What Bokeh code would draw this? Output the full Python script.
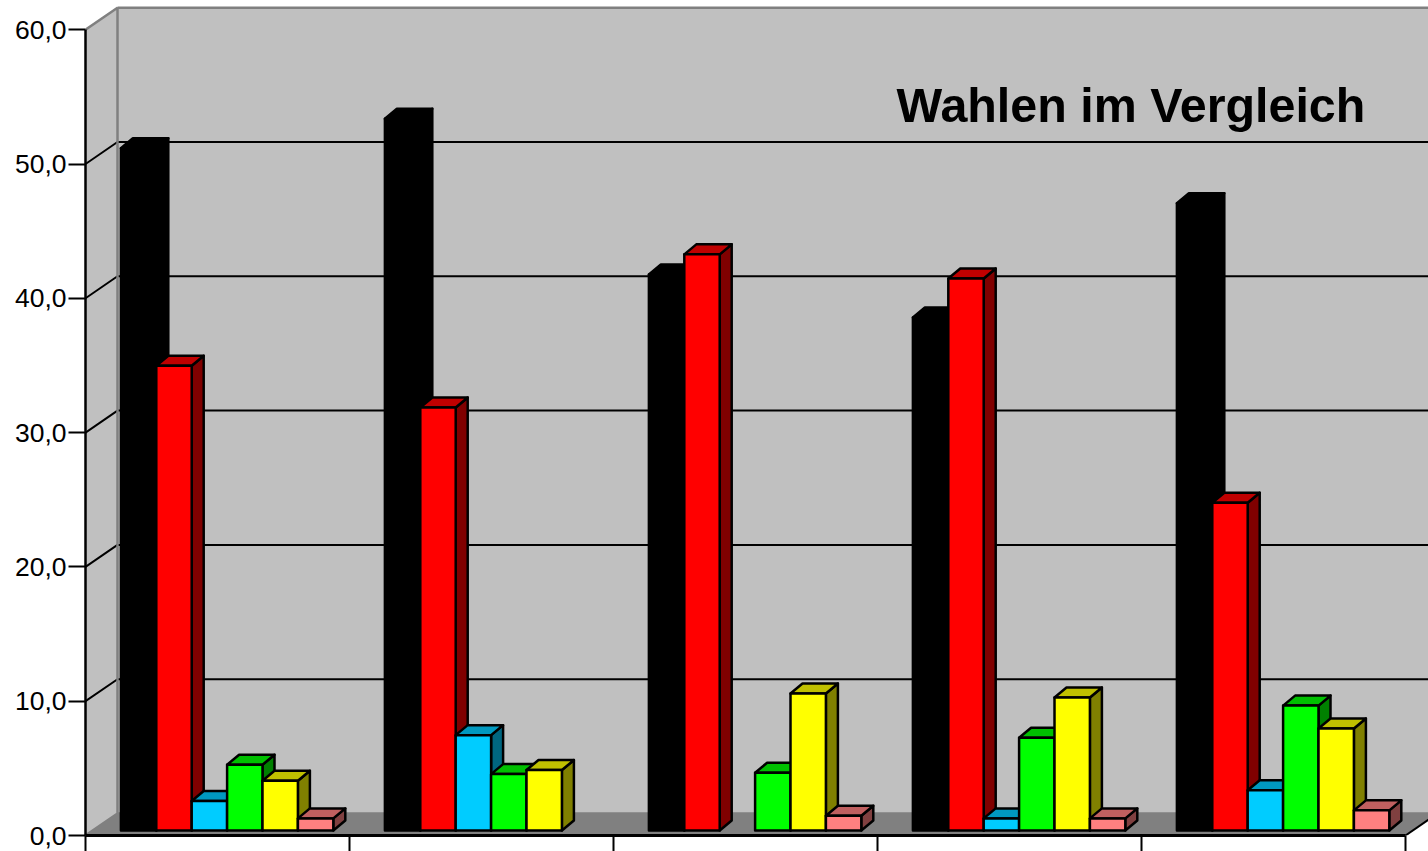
from bokeh.plotting import figure
from bokeh.embed import file_html
from bokeh.resources import INLINE
from bokeh.models import LinearAxis, FixedTicker, Range1d, Label
from bokeh.core.properties import value

categories = ["Europa 99", "But 98", "Landtag 2000", "Bundestag 2002", "Europa 2004"]
black = [50.8, 53.0, 41.4, 38.2, 46.7]
red = [34.6, 31.5, 42.9, 41.1, 24.4]
blue = [2.2, 7.1, None, 0.9, 3.0]
green = [4.9, 4.2, 4.3, 6.9, 9.3]
yellow = [3.7, 4.5, 10.2, 9.9, 7.6]
pink = [0.9, None, 1.1, 0.9, 1.5]
value_ticks = [0, 10, 20, 30, 40, 50, 60]
tick_labels = ["0,0", "10,0", "20,0", "30,0", "40,0", "50,0", "60,0"]
title_text = "Wahlen im Vergleich"

series = [
    (black, "#000000", "#000000", "#000000"),
    (red, "#ff0000", "#c00000", "#800000"),
    (blue, "#00ccff", "#0099c0", "#006680"),
    (green, "#00ff00", "#00c000", "#008000"),
    (yellow, "#ffff00", "#c0c000", "#808000"),
    (pink, "#ff8080", "#c06060", "#804040"),
]

PX_X = 264.0       # pixels per category
PX_Y = 13.43       # pixels per value unit
WALL_DX = 32 / PX_X
WALL_DY = 22 / PX_Y
BAR_DX = 12 / PX_X
BAR_DY = 10 / PX_Y
BASE = 5 / PX_Y
BAR_W = 35.4 / PX_X
BAR_START = 35.4 / PX_X
X_END = (1428 - 85) / PX_X
Y_END = (835 - 5) / PX_Y

p = figure(
    width=1428, height=851, output_backend="svg", toolbar_location=None,
    x_range=Range1d(0, X_END), y_range=Range1d(0, Y_END),
    x_axis_type=None, y_axis_type=None,
    min_border_left=85, min_border_right=0, min_border_top=5, min_border_bottom=16,
    margin=(0, 0, 0, 0), background_fill_color=None, border_fill_color="white",
    outline_line_color=None,
)
p.grid.visible = False

# walls and floor
p.patch([0, WALL_DX, WALL_DX, 0], [0, WALL_DY, 60 + WALL_DY, 60],
        fill_color="#c0c0c0", line_color=None)
p.patch([WALL_DX, 5.3, 5.3, WALL_DX], [WALL_DY, WALL_DY, 60 + WALL_DY, 60 + WALL_DY],
        fill_color="#c0c0c0", line_color=None)
p.patch([0, WALL_DX, 5 + WALL_DX, 5], [0, WALL_DY, WALL_DY, 0],
        fill_color="#808080", line_color=None)

# grid on the walls
grid_ticks = [t for t in value_ticks if 0 < t < 60]
p.multi_line([[0, WALL_DX, 5.3] for _ in grid_ticks],
             [[t, t + WALL_DY, t + WALL_DY] for t in grid_ticks],
             line_color="black", line_width=2)
p.multi_line([[0, WALL_DX, WALL_DX, 0], [WALL_DX, 5.3], [WALL_DX, 5.3]],
             [[60, 60 + WALL_DY, WALL_DY, 0], [60 + WALL_DY, 60 + WALL_DY], [WALL_DY, WALL_DY]],
             line_color="#808080", line_width=2.5)
p.line([5, 5 + WALL_DX], [0, WALL_DY], line_color="black", line_width=2)

# bars
xs, ys, fills = [], [], []
for g in range(len(categories)):
    for j, (vals, front, top, side) in enumerate(series):
        v = vals[g]
        if v is None:
            continue
        x0 = g + BAR_START + j * BAR_W
        x1 = x0 + BAR_W
        y0 = BASE
        y1 = BASE + v
        xs += [[x1, x1 + BAR_DX, x1 + BAR_DX, x1],
               [x0, x0 + BAR_DX, x1 + BAR_DX, x1],
               [x0, x1, x1, x0]]
        ys += [[y0, y0 + BAR_DY, y1 + BAR_DY, y1],
               [y1, y1 + BAR_DY, y1 + BAR_DY, y1],
               [y0, y0, y1, y1]]
        fills += [side, top, front]
p.patches(xs, ys, fill_color=fills, line_color="black", line_width=2.5, line_join="round")

# title
p.text([(896 - 85) / PX_X], [(835 - 122 + 18) / PX_Y], text=[title_text],
       text_font=value("Liberation Sans"), text_font_style="bold",
       text_font_size="48.4px", text_color="black",
       text_align="left", text_baseline="alphabetic")

# value axis
y_axis = LinearAxis(
    ticker=FixedTicker(ticks=value_ticks),
    major_label_overrides={t: s for t, s in zip(value_ticks, tick_labels)},
    bounds=(0, 60),
    axis_line_color="black", axis_line_width=2.5,
    major_tick_line_color="black", major_tick_line_width=2,
    major_tick_in=0, major_tick_out=17, minor_tick_in=0, minor_tick_out=0,
    major_label_standoff=2,
    major_label_text_font="Liberation Sans", major_label_text_font_size="26.5px",
    major_label_text_color="black",
)
p.add_layout(y_axis, "left")

# category axis: dividers only, labels sit below it
x_axis = LinearAxis(
    ticker=FixedTicker(ticks=[], minor_ticks=list(range(len(categories) + 1))),
    bounds=(0, len(categories)),
    axis_line_color="black", axis_line_width=3,
    major_tick_in=0, major_tick_out=0,
    minor_tick_in=0, minor_tick_out=16,
    minor_tick_line_color="black", minor_tick_line_width=2,
    major_label_standoff=0, major_label_text_font_size="0px",
)
p.add_layout(x_axis, "below")

for g, name in enumerate(categories):
    p.add_layout(Label(x=g + 0.5, y=-6 / PX_Y, text=name,
                       text_font="Liberation Sans", text_font_size="25px",
                       text_color="black", text_align="center",
                       text_baseline="top"))

open("out.html", "w").write(file_html(p, INLINE))
